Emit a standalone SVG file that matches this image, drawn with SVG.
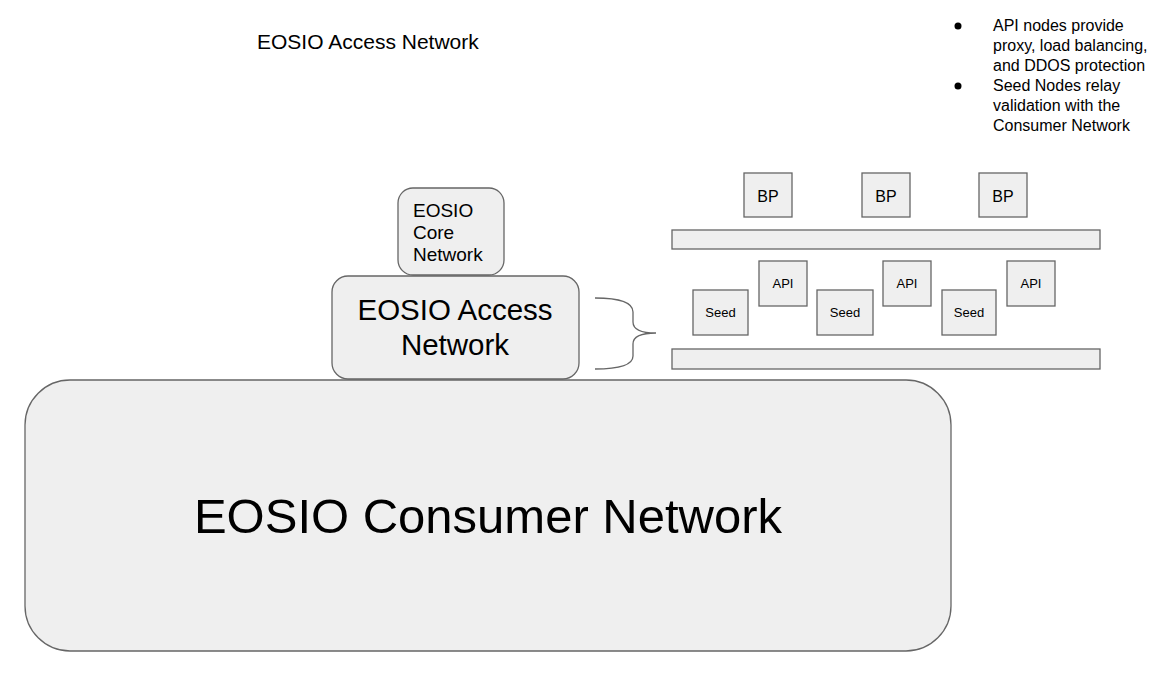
<svg xmlns="http://www.w3.org/2000/svg" width="1168" height="676" viewBox="0 0 1168 676">
<style>
.box{fill:#efefef;stroke:#666666;stroke-width:1.3}
.t{font-family:"Liberation Sans",Arial,sans-serif;fill:#000000}
.c{text-anchor:middle}
.conn{fill:none;stroke:#666666;stroke-width:1.3}
</style>
<rect width="1168" height="676" fill="#ffffff"/>
<g id="title"><text class="t" x="257" y="49" font-size="21">EOSIO Access Network</text></g>
<g id="notes">
<circle cx="958" cy="26" r="3.5" fill="#000"/>
<circle cx="958" cy="86" r="3.5" fill="#000"/>
<text class="t" font-size="16"><tspan x="993" y="31">API nodes provide</tspan><tspan x="993" y="51">proxy, load balancing,</tspan><tspan x="993" y="71">and DDOS protection</tspan><tspan x="993" y="91">Seed Nodes relay</tspan><tspan x="993" y="111">validation with the</tspan><tspan x="993" y="131">Consumer Network</tspan></text>
</g>
<g id="consumer"><rect class="box" x="25" y="380" width="926" height="271" rx="45"/><text class="t c" x="488" y="533" font-size="49">EOSIO Consumer Network</text></g>
<g id="access"><rect class="box" x="332" y="276" width="247" height="103" rx="16"/><text class="t c" x="455" y="320" font-size="29.5">EOSIO Access</text><text class="t c" x="455" y="355" font-size="29.5">Network</text></g>
<g id="core"><rect class="box" x="398" y="188" width="106" height="87" rx="15"/><text class="t" font-size="19"><tspan x="413" y="217">EOSIO</tspan><tspan x="413" y="239">Core</tspan><tspan x="413" y="261">Network</tspan></text></g>
<g id="connectors"><path class="conn" d="M595 298 Q633 298 633 312 L633 322 Q633 333 656 333 Q633 333 633 344 L633 356 Q633 369 595 369"/></g>
<g id="bar-top"><rect class="box" x="672" y="230" width="428" height="19"/></g>
<g id="bar-bottom"><rect class="box" x="672" y="349" width="428" height="20"/></g>
<g id="bp1"><rect class="box" x="744" y="173" width="48" height="44"/><text class="t c" x="768" y="202" font-size="16">BP</text></g>
<g id="bp2"><rect class="box" x="862" y="173" width="48" height="44"/><text class="t c" x="886" y="202" font-size="16">BP</text></g>
<g id="bp3"><rect class="box" x="979" y="173" width="48" height="44"/><text class="t c" x="1003" y="202" font-size="16">BP</text></g>
<g id="api1"><rect class="box" x="759" y="261" width="48" height="45"/><text class="t c" x="783" y="288" font-size="13">API</text></g>
<g id="api2"><rect class="box" x="883" y="261" width="48" height="45"/><text class="t c" x="907" y="288" font-size="13">API</text></g>
<g id="api3"><rect class="box" x="1007" y="261" width="48" height="45"/><text class="t c" x="1031" y="288" font-size="13">API</text></g>
<g id="seed1"><rect class="box" x="693" y="290" width="55" height="45"/><text class="t c" x="720.5" y="317" font-size="13">Seed</text></g>
<g id="seed2"><rect class="box" x="817" y="290" width="56" height="45"/><text class="t c" x="845" y="317" font-size="13">Seed</text></g>
<g id="seed3"><rect class="box" x="942" y="290" width="54" height="45"/><text class="t c" x="969" y="317" font-size="13">Seed</text></g>
</svg>
